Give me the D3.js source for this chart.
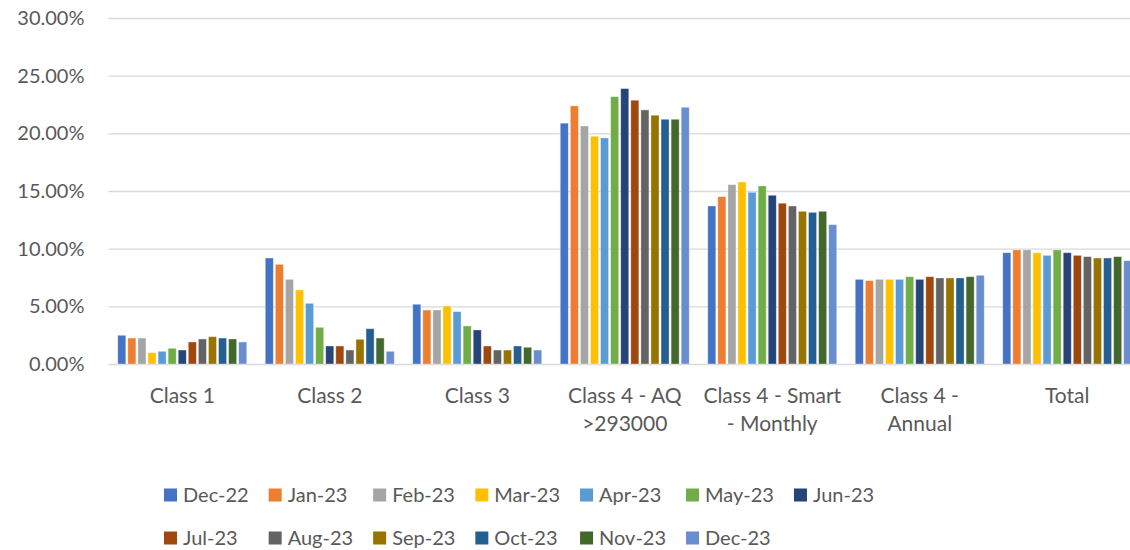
<!DOCTYPE html>
<html>
<head>
<meta charset="utf-8">
<script src="https://cdn.jsdelivr.net/npm/d3@7/dist/d3.min.js"></script>
<style>
  html, body { margin: 0; padding: 0; background: #fff; overflow: hidden; }
  svg text { font-family: Lato, "Open Sans", "Liberation Sans", sans-serif; fill: #595959; }
</style>
</head>
<body>
<svg id="chart" width="1130" height="550"></svg>
<script>
// Share by class, month by month
const categories = ["Class 1", "Class 2", "Class 3", "Class 4 - AQ >293000",
  "Class 4 - Smart - Monthly", "Class 4 - Annual", "Total"];
const categoryLines = [["Class 1"], ["Class 2"], ["Class 3"], ["Class 4 - AQ", ">293000"],
  ["Class 4 - Smart", "- Monthly"], ["Class 4 -", "Annual"], ["Total"]];
const months = ["Dec-22", "Jan-23", "Feb-23", "Mar-23", "Apr-23", "May-23", "Jun-23",
  "Jul-23", "Aug-23", "Sep-23", "Oct-23", "Nov-23", "Dec-23"];
const colors = ["#4472C4", "#ED7D31", "#A5A5A5", "#FFC000", "#5B9BD5", "#70AD47", "#264478",
  "#9E480E", "#636363", "#997300", "#255E91", "#43682B", "#698ED0"];
const yTicks = [0, 0.05, 0.10, 0.15, 0.20, 0.25, 0.30];

// one array per category, values in month order (fractions)
const class1      = [0.0249, 0.0225, 0.0225, 0.0098, 0.0110, 0.0136, 0.0121, 0.0191, 0.0217, 0.0237, 0.0225, 0.0217, 0.0191];
const class2      = [0.0919, 0.0864, 0.0734, 0.0642, 0.0526, 0.0318, 0.0156, 0.0156, 0.0121, 0.0214, 0.0306, 0.0225, 0.0110];
const class3      = [0.0518, 0.0468, 0.0468, 0.0503, 0.0454, 0.0330, 0.0295, 0.0156, 0.0121, 0.0121, 0.0156, 0.0145, 0.0121];
const class4AQ    = [0.2088, 0.2238, 0.2064, 0.1975, 0.1960, 0.2318, 0.2388, 0.2287, 0.2203, 0.2157, 0.2122, 0.2122, 0.2226];
const class4Smart = [0.1370, 0.1451, 0.1555, 0.1578, 0.1489, 0.1544, 0.1463, 0.1394, 0.1370, 0.1324, 0.1315, 0.1324, 0.1208];
const class4Ann   = [0.0734, 0.0723, 0.0734, 0.0734, 0.0734, 0.0757, 0.0734, 0.0757, 0.0746, 0.0746, 0.0746, 0.0757, 0.0769];
const total       = [0.0965, 0.0989, 0.0989, 0.0965, 0.0942, 0.0989, 0.0965, 0.0942, 0.0931, 0.0919, 0.0919, 0.0931, 0.0896];
const seriesByCategory = [class1, class2, class3, class4AQ, class4Smart, class4Ann, total];

const svg = d3.select("#chart");
const plot = { left: 108.5, right: 1141, top: 18, bottom: 364 };

const y = d3.scaleLinear().domain([0, 0.30]).range([plot.bottom, plot.top]);
const x0 = d3.scaleBand().domain(categories).range([plot.left, plot.right]).padding(0);
const groupPad = 8.25;
const x1 = d3.scaleBand().domain(months)
  .range([groupPad, x0.bandwidth() - groupPad]).paddingInner(0.2).paddingOuter(0.1);

// gridlines and value labels
const yAxis = d3.axisLeft(y).tickValues(yTicks)
  .tickFormat(d => d3.format(".2%")(d))
  .tickSize(-(plot.right - plot.left)).tickPadding(24);
const gy = svg.append("g").attr("transform", `translate(${plot.left},0)`).call(yAxis);
gy.select(".domain").remove();
gy.selectAll(".tick line").attr("stroke", "#D9D9D9").attr("stroke-width", 1.3);
gy.selectAll(".tick text").style("font-size", "20px").attr("fill", "#595959");

// bars
const groups = svg.append("g").selectAll("g")
  .data(categories)
  .join("g")
  .attr("transform", d => `translate(${x0(d)},0)`);

groups.selectAll("rect")
  .data((c, i) => months.map((m, j) => ({ month: m, value: seriesByCategory[i][j], color: colors[j] })))
  .join("rect")
  .attr("x", d => x1(d.month))
  .attr("width", x1.bandwidth())
  .attr("y", d => y(d.value))
  .attr("height", d => y(0) - y(d.value))
  .attr("fill", d => d.color)
  .attr("stroke", "#ffffff")
  .attr("stroke-opacity", 0.45)
  .attr("stroke-width", 0.8);

// category labels
const xAxis = d3.axisBottom(x0).tickSize(0).tickFormat("");
const gx = svg.append("g").attr("transform", `translate(0,${plot.bottom})`).call(xAxis);
gx.select(".domain").remove();
gx.selectAll(".tick").each(function (d, i) {
  const t = d3.select(this).append("text")
    .attr("text-anchor", "middle")
    .attr("y", 39)
    .style("font-size", "21px")
    .attr("fill", "#595959");
  categoryLines[i].forEach((line, k) => {
    t.append("tspan").attr("x", 0).attr("dy", k === 0 ? 0 : 28).text(line);
  });
});

// legend: two rows, column widths follow the widest label in each column
const perRow = 7;
const legendX = 164, legendRows = [495, 538];
const sq = 13, sqGap = 6, colPad = 20;
const legendFont = "20px";
const legend = svg.append("g");
const measure = legend.append("text").style("font-size", legendFont);
const textW = months.map(m => { measure.text(m); return measure.node().getComputedTextLength(); });
measure.remove();
const colX = [];
let cx = legendX;
for (let c = 0; c < perRow; c++) {
  colX.push(cx);
  const w = d3.max(textW.filter((t, j) => j % perRow === c));
  cx += sq + sqGap + w + colPad;
}
const items = legend.selectAll("g").data(months).join("g")
  .attr("transform", (d, j) => `translate(${colX[j % perRow]},${legendRows[Math.floor(j / perRow)]})`);
items.append("rect").attr("x", 0).attr("y", -sq / 2).attr("width", sq).attr("height", sq)
  .attr("fill", (d, j) => colors[j]);
items.append("text").attr("x", sq + sqGap).attr("dy", "0.35em")
  .style("font-size", legendFont).attr("fill", "#595959").text(d => d);
</script>
</body>
</html>
